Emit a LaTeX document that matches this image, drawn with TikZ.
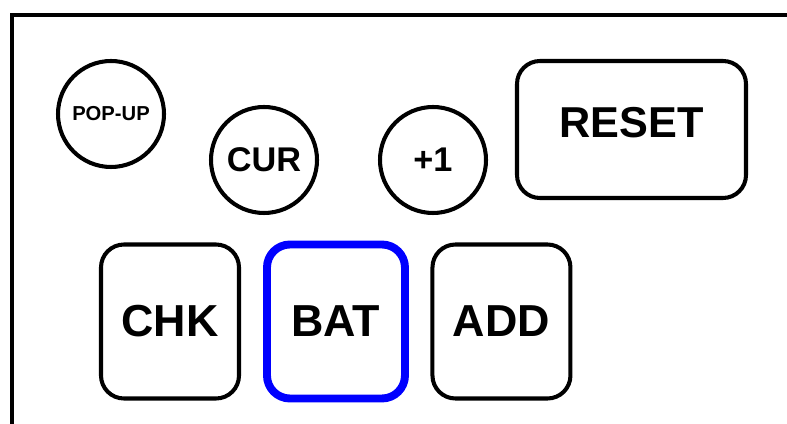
\documentclass[tikz,border=0pt]{standalone}
\usepackage{fontspec}
\setmainfont{Liberation Sans}
\usetikzlibrary{positioning}
\tikzset{
    knob/.style={draw, circle, line width=2.3pt, inner sep=0cm, minimum size=2.12cm},
    key/.style={draw, rectangle, rounded corners=0.46cm, line width=2.3pt, inner sep=0cm, minimum width=2.76cm, minimum height=3.08cm, font=\bfseries\fontsize{25.5}{25.5}\selectfont},
    picked/.style={draw=blue, line width=4.5pt}
}

\begin{document}
\begin{tikzpicture}
    \useasboundingbox (0, 0) rectangle (15.74, 8.46);
    \draw[line width=2.8pt] (0.24, -0.2) |- (16, 8.16);
    \node[knob, font=\bfseries\fontsize{11.5}{11.5}\selectfont] (popup) at (2.22, 6.18) {POP-UP};
    \node[knob, font=\bfseries\fontsize{19.5}{19.5}\selectfont] (cur) at (5.28, 5.26) {CUR};
    \node[knob, font=\bfseries\fontsize{19.5}{19.5}\selectfont] (plus) at (8.66, 5.26) {+1};
    \node[key, minimum width=4.58cm, minimum height=2.74cm, text depth=0.3cm, font=\bfseries\fontsize{24.6}{24.6}\selectfont] (reset) at (12.63, 5.87) {RESET};
    \node[key] (chk) at (3.40, 2.03) {CHK};
    \node[key, picked, right=0.44cm of chk] (bat) {BAT};
    \node[key, right=0.43cm of bat] (add) {ADD};
\end{tikzpicture}
\end{document}
